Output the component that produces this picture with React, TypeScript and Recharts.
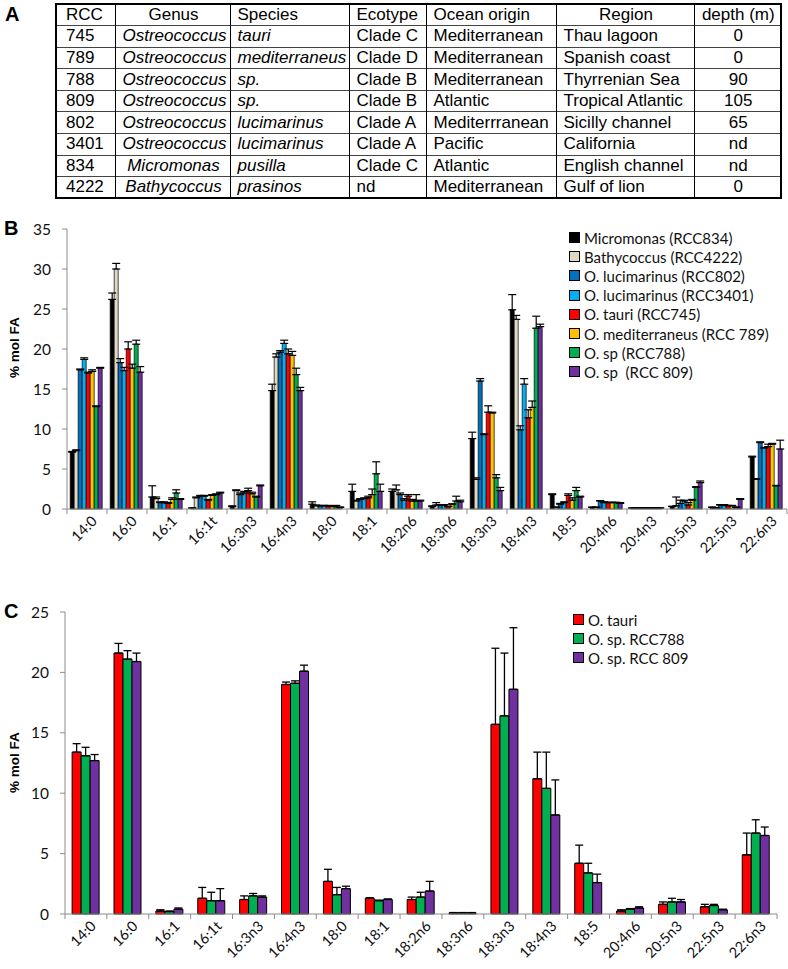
import React from 'react';
import { BarChart, Bar, XAxis, YAxis, ErrorBar, Legend } from 'recharts';

// ---- panel A table ----
const rccIds = ['745', '789', '788', '809', '802', '3401', '834', '4222'];
const genera = ['Ostreococcus', 'Ostreococcus', 'Ostreococcus', 'Ostreococcus', 'Ostreococcus', 'Ostreococcus', 'Micromonas', 'Bathycoccus'];
const speciesNames = ['tauri', 'mediterraneus', 'sp.', 'sp.', 'lucimarinus', 'lucimarinus', 'pusilla', 'prasinos'];
const ecotypes = ['Clade C', 'Clade D', 'Clade B', 'Clade B', 'Clade A', 'Clade A', 'Clade C', 'nd'];
const oceans = ['Mediterranean', 'Mediterranean', 'Mediterranean', 'Atlantic', 'Mediterrranean', 'Pacific', 'Atlantic', 'Mediterranean'];
const regions = ['Thau lagoon', 'Spanish coast', 'Thyrrenian Sea', 'Tropical Atlantic', 'Sicilly channel', 'California', 'English channel', 'Gulf of lion'];
const depths = ['0', '0', '90', '105', '65', 'nd', 'nd', '0'];

// ---- panel B ----
const acidsB = ['14:0', '16:0', '16:1', '16:1t', '16:3n3', '16:4n3', '18:0', '18:1', '18:2n6', '18:3n6', '18:3n3', '18:4n3', '18:5', '20:4n6', '20:4n3', '20:5n3', '22:5n3', '22:6n3'];
const micromonas = [7.1, 26.2, 1.5, 0.1, 0.3, 14.8, 0.6, 2.2, 2.2, 0.3, 8.8, 24.9, 1.8, 0.2, 0.1, 0.3, 0.2, 6.5];
const micromonasErr = [0.1, 0.8, 1.4, 0.05, 0.1, 0.8, 0.3, 0.9, 0.3, 0.1, 0.8, 1.9, 0.1, 0.05, 0.05, 0.05, 0.05, 0.1];
const bathy = [7.3, 30.0, 1.3, 1.4, 2.3, 19.0, 0.4, 1.0, 2.4, 0.5, 3.7, 23.7, 0.2, 0.2, 0.1, 0.4, 0.1, 3.7];
const bathyErr = [0.1, 0.7, 0.2, 0.1, 0.1, 0.4, 0.1, 0.1, 0.6, 0.3, 0.2, 0.5, 0.05, 0.05, 0.05, 1.1, 0.05, 0.1];
const luci802 = [17.4, 18.3, 0.8, 1.6, 1.8, 19.6, 0.4, 1.2, 1.8, 0.5, 16.0, 9.9, 0.6, 1.0, 0.1, 0.7, 0.5, 8.3];
const luci802Err = [0.1, 0.5, 0.1, 0.1, 0.2, 0.2, 0.05, 0.1, 0.2, 0.05, 0.3, 0.5, 0.1, 0.05, 0.05, 0.4, 0.05, 0.1];
const luci3401 = [18.7, 17.3, 0.8, 1.6, 2.0, 20.7, 0.4, 1.3, 1.1, 0.5, 9.3, 15.6, 0.8, 0.8, 0.1, 1.0, 0.5, 7.6];
const luci3401Err = [0.2, 0.4, 0.1, 0.1, 0.2, 0.4, 0.05, 0.1, 0.2, 0.05, 0.1, 0.7, 0.1, 0.1, 0.05, 0.1, 0.05, 0.1];
const tauri = [17.0, 20.0, 0.7, 1.1, 2.3, 19.4, 0.4, 1.4, 1.6, 0.3, 12.1, 11.4, 1.7, 0.8, 0.1, 0.5, 0.4, 7.8];
const tauriErr = [0.1, 0.9, 0.1, 0.1, 0.3, 0.6, 0.05, 0.2, 0.2, 0.05, 0.8, 1.0, 0.2, 0.05, 0.05, 0.3, 0.05, 0.3];
const mediterraneus = [17.2, 17.6, 1.2, 1.7, 1.9, 19.2, 0.3, 1.8, 1.0, 0.6, 12.0, 12.7, 1.1, 0.8, 0.1, 1.1, 0.4, 8.1];
const mediterraneusErr = [0.2, 0.5, 0.2, 0.1, 0.2, 0.5, 0.05, 0.7, 0.2, 0.05, 0.1, 0.8, 0.3, 0.05, 0.05, 0.1, 0.05, 0.1];
const sp788 = [12.8, 20.6, 2.0, 1.8, 1.5, 16.8, 0.4, 4.4, 1.0, 1.0, 3.9, 22.6, 2.3, 0.8, 0.1, 2.7, 0.2, 2.9];
const sp788Err = [0.1, 0.5, 0.4, 0.1, 0.1, 0.8, 0.05, 1.5, 0.8, 0.6, 0.4, 1.5, 0.4, 0.05, 0.05, 0.1, 0.05, 0.05];
const sp809 = [17.6, 17.1, 1.2, 2.0, 2.9, 14.8, 0.2, 2.2, 1.0, 0.9, 2.3, 22.8, 1.5, 0.7, 0.1, 3.3, 1.2, 7.5];
const sp809Err = [0.1, 0.7, 0.1, 0.1, 0.1, 0.4, 0.05, 0.9, 0.1, 0.2, 0.4, 0.3, 0.1, 0.1, 0.05, 0.2, 0.1, 1.1];
const ticksB = [0, 5, 10, 15, 20, 25, 30, 35];

// ---- panel C ----
const acidsC = ['14:0', '16:0', '16:1', '16:1t', '16:3n3', '16:4n3', '18:0', '18:1', '18:2n6', '18:3n6', '18:3n3', '18:4n3', '18:5', '20:4n6', '20:5n3', '22:5n3', '22:6n3'];
const tauriC = [13.4, 21.6, 0.25, 1.3, 1.2, 19.0, 2.7, 1.3, 1.2, 0.1, 15.7, 11.2, 4.2, 0.25, 0.8, 0.6, 4.9];
const tauriCErr = [0.7, 0.8, 0.1, 0.9, 0.3, 0.2, 1.0, 0.05, 0.2, 0.02, 6.3, 2.2, 1.5, 0.1, 0.2, 0.2, 1.8];
const sp788C = [13.1, 21.1, 0.2, 1.1, 1.5, 19.1, 1.6, 1.1, 1.4, 0.1, 16.4, 10.4, 3.4, 0.4, 1.0, 0.7, 6.7];
const sp788CErr = [0.7, 0.7, 0.05, 0.7, 0.2, 0.2, 0.6, 0.05, 0.4, 0.02, 5.2, 3.0, 0.8, 0.05, 0.3, 0.1, 1.1];
const sp809C = [12.7, 20.9, 0.4, 1.1, 1.4, 20.1, 2.1, 1.2, 1.9, 0.1, 18.6, 8.2, 2.6, 0.5, 1.0, 0.35, 6.5];
const sp809CErr = [0.5, 0.7, 0.1, 1.0, 0.1, 0.5, 0.2, 0.05, 0.8, 0.02, 5.1, 2.9, 0.7, 0.1, 0.2, 0.05, 0.7];
const ticksC = [0, 5, 10, 15, 20, 25];

const seriesB = [
    { name: 'Micromonas (RCC834)', color: '#000000', values: micromonas, errs: micromonasErr },
    { name: 'Bathycoccus (RCC4222)', color: '#DDD9C3', values: bathy, errs: bathyErr },
    { name: 'O. lucimarinus (RCC802)', color: '#0070C0', values: luci802, errs: luci802Err },
    { name: 'O. lucimarinus (RCC3401)', color: '#00B0F0', values: luci3401, errs: luci3401Err },
    { name: 'O. tauri (RCC745)', color: '#FF0000', values: tauri, errs: tauriErr },
    { name: 'O. mediterraneus (RCC 789)', color: '#FFC000', values: mediterraneus, errs: mediterraneusErr },
    { name: 'O. sp (RCC788)', color: '#00B050', values: sp788, errs: sp788Err },
    { name: 'O. sp  (RCC 809)', color: '#7030A0', values: sp809, errs: sp809Err },
];

const seriesC = [
    { name: 'O. tauri', color: '#FF0000', values: tauriC, errs: tauriCErr },
    { name: 'O. sp. RCC788', color: '#00B050', values: sp788C, errs: sp788CErr },
    { name: 'O. sp. RCC 809', color: '#7030A0', values: sp809C, errs: sp809CErr },
];

const buildRows = (cats: string[], series: typeof seriesB) =>
    cats.map((acid, i) => {
        const row: any = { acid };
        series.forEach((s, k) => {
            row[`v${k}`] = s.values[i];
            row[`e${k}`] = [0, s.errs[i]];
        });
        return row;
    });

const dataB = buildRows(acidsB, seriesB);
const dataC = buildRows(acidsC, seriesC);

const AXIS_GRAY = '#8c8c8c';
const TICK_FONT = 'Lato, "Open Sans", sans-serif';
const TABLE_FONT = '"Liberation Sans Narrow", "Arial Narrow", "Liberation Sans", Arial, sans-serif';

// category label rotated like excel + tick marks between categories
const AcidTick = (props: any) => {
    const { x, y, payload, index, visibleTicksCount, width } = props;
    const half = payload && payload.offset ? payload.offset : width / visibleTicksCount / 2;
    const lx = x + 11;
    const ly = y + 13;
    return (
        <g>
            <line x1={x - half} y1={y} x2={x - half} y2={y + 5} stroke={AXIS_GRAY} strokeWidth={1} />
            {index === visibleTicksCount - 1 && (
                <line x1={x + half} y1={y} x2={x + half} y2={y + 5} stroke={AXIS_GRAY} strokeWidth={1} />
            )}
            <text x={lx} y={ly} textAnchor="end" transform={`rotate(-45, ${lx}, ${ly})`} fontSize={14.5} fontFamily={TICK_FONT} fill="#111">
                {payload.value}
            </text>
        </g>
    );
};

const SeriesLegend = ({ items }: { items: { name: string; color: string }[] }) => (
    <div>
        {items.map((it) => (
            <div key={it.name} style={{ display: 'flex', alignItems: 'center', height: 19.2, whiteSpace: 'pre' }}>
                <span style={{ width: 9, height: 9, background: it.color, border: '1px solid #000', marginRight: 4, flexShrink: 0 }} />
                <span style={{ fontFamily: TICK_FONT, fontSize: 15, color: '#111' }}>{it.name}</span>
            </div>
        ))}
    </div>
);

const panelLetter: React.CSSProperties = {
    position: 'absolute',
    fontFamily: '"Liberation Sans", Arial, sans-serif',
    fontWeight: 700,
    fontSize: 20,
    lineHeight: 1,
};

const yLabel: React.CSSProperties = {
    position: 'absolute',
    fontFamily: '"Liberation Sans", Arial, sans-serif',
    fontWeight: 700,
    fontSize: 13.5,
    transform: 'rotate(-90deg)',
    transformOrigin: 'center',
    whiteSpace: 'nowrap',
    width: 80,
    textAlign: 'center',
};

const colWidths = [59, 115, 119, 77, 130, 138, 87];
const headers = ['RCC', 'Genus', 'Species', 'Ecotype', 'Ocean origin', 'Region', 'depth (m)'];
const headAlign: any[] = ['left', 'center', 'left', 'left', 'left', 'center', 'center'];
const bodyAlign: any[] = ['left', 'center', 'left', 'left', 'left', 'left', 'center'];

const StrainTable = () => {
    const cell = (k: number, align: any, italic = false): React.CSSProperties => ({
        width: colWidths[k],
        height: 21.6,
        padding: k === 0 ? '0 0 0 9px' : '0 5px 0 7px',
        textAlign: align,
        fontStyle: italic ? 'italic' : 'normal',
        borderLeft: k === 0 ? 'none' : '1.5px solid #000',
        borderTop: '1px solid #444',
        boxSizing: 'border-box',
        whiteSpace: 'nowrap',
        lineHeight: '20px',
    });
    return (
        <table
            style={{
                position: 'absolute',
                left: 55,
                top: 3,
                width: 725,
                borderCollapse: 'collapse',
                tableLayout: 'fixed',
                border: '2px solid #000',
                fontFamily: TABLE_FONT,
                fontSize: 17,
                color: '#000',
            }}
        >
            <tbody>
                <tr>
                    {headers.map((h, k) => (
                        <td key={h} style={{ ...cell(k, headAlign[k]), borderTop: 'none' }}>{h}</td>
                    ))}
                </tr>
                {rccIds.map((id, i) => (
                    <tr key={id}>
                        <td style={cell(0, bodyAlign[0])}>{id}</td>
                        <td style={cell(1, bodyAlign[1], true)}>{genera[i]}</td>
                        <td style={cell(2, bodyAlign[2], true)}>{speciesNames[i]}</td>
                        <td style={cell(3, bodyAlign[3])}>{ecotypes[i]}</td>
                        <td style={cell(4, bodyAlign[4])}>{oceans[i]}</td>
                        <td style={cell(5, bodyAlign[5])}>{regions[i]}</td>
                        <td style={cell(6, bodyAlign[6])}>{depths[i]}</td>
                    </tr>
                ))}
            </tbody>
        </table>
    );
};

const App: React.FC = () => {
    return (
        <div style={{ position: 'absolute', left: 0, top: 0, width: 788, height: 969, background: '#fff', overflow: 'hidden' }}>
            <div style={{ ...panelLetter, left: 5, top: 4 }}>A</div>
            <StrainTable />

            {/* panel B */}
            <div style={{ ...panelLetter, left: 4, top: 218 }}>B</div>
            <div style={{ ...yLabel, left: -26, top: 340 }}>% mol FA</div>
            <div style={{ position: 'absolute', left: 0, top: 215 }}>
                <BarChart width={788} height={354} data={dataB} margin={{ top: 14, right: 1, left: 0, bottom: 0 }} barCategoryGap="8%" barGap={0}>
                    <XAxis dataKey="acid" interval={0} height={60} tickLine={false} tickSize={0} tickMargin={0} tick={<AcidTick />} stroke={AXIS_GRAY} />
                    <YAxis width={67} domain={[0, 35]} ticks={ticksB} tickSize={5} tickMargin={11} stroke={AXIS_GRAY}
                        tick={{ fill: '#111', fontSize: 15.5, fontFamily: TICK_FONT }} />
                    <Legend layout="horizontal" verticalAlign="middle" align="center"
                        wrapperStyle={{ position: 'absolute', top: 13, left: 569, width: 215 }}
                        content={() => <SeriesLegend items={seriesB} />} />
                    {seriesB.map((s, k) => (
                        <Bar key={s.name} dataKey={`v${k}`} name={s.name} fill={s.color} stroke="#000" strokeWidth={0.7} isAnimationActive={false}>
                            <ErrorBar dataKey={`e${k}`} width={4} stroke="#000" strokeWidth={1.2} direction="y" />
                        </Bar>
                    ))}
                </BarChart>
            </div>

            {/* panel C */}
            <div style={{ ...panelLetter, left: 4, top: 601 }}>C</div>
            <div style={{ ...yLabel, left: -26, top: 755 }}>% mol FA</div>
            <div style={{ position: 'absolute', left: 0, top: 598 }}>
                <BarChart width={788} height={371} data={dataC} margin={{ top: 14, right: 11, left: 0, bottom: 0 }} barCategoryGap="17%" barGap={0}>
                    <XAxis dataKey="acid" interval={0} height={55} tickLine={false} tickSize={0} tickMargin={0} tick={<AcidTick />} stroke={AXIS_GRAY} />
                    <YAxis width={65} domain={[0, 25]} ticks={ticksC} tickSize={5} tickMargin={11} stroke={AXIS_GRAY}
                        tick={{ fill: '#111', fontSize: 15.5, fontFamily: TICK_FONT }} />
                    <Legend layout="horizontal" verticalAlign="middle" align="center"
                        wrapperStyle={{ position: 'absolute', top: 12, left: 573, width: 150 }}
                        content={() => <SeriesLegend items={seriesC} />} />
                    {seriesC.map((s, k) => (
                        <Bar key={s.name} dataKey={`v${k}`} name={s.name} fill={s.color} stroke="#000" strokeWidth={1} isAnimationActive={false}>
                            <ErrorBar dataKey={`e${k}`} width={4} stroke="#000" strokeWidth={1.3} direction="y" />
                        </Bar>
                    ))}
                </BarChart>
            </div>
        </div>
    );
};

export default App;
